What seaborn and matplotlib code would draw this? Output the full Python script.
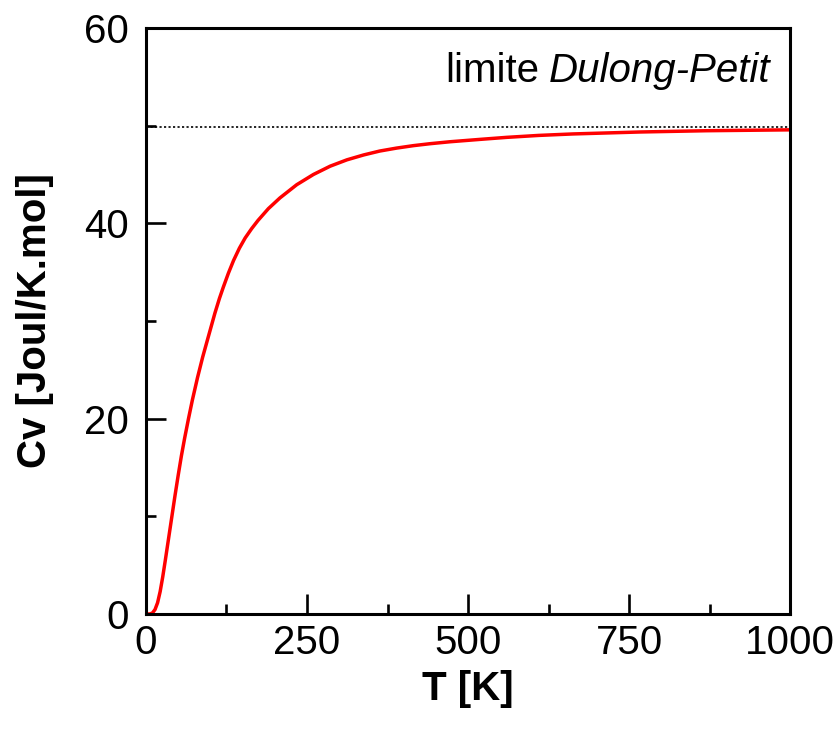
import numpy as np
import pandas as pd
import matplotlib
matplotlib.use("Agg")
import matplotlib.pyplot as plt
import seaborn as sns
from matplotlib.ticker import MultipleLocator

# Heat capacity readings (temperature in K, Cv in J/K.mol)
temperature = [0, 6, 10, 14, 18, 22, 26, 30, 35, 40, 45, 50, 55, 60, 66, 72,
               80, 88, 96, 107, 114, 120, 128, 136, 145, 154, 164, 174, 190,
               208, 234, 260, 286, 312, 338, 363, 389, 415, 441, 472, 520,
               560, 610, 663, 767, 870, 1000]
heat_capacity = [0.0, 0.0, 0.1, 0.45, 1.15, 2.3, 3.8, 5.5, 7.7, 9.9, 12.1,
                 14.2, 16.2, 18.0, 20.0, 21.9, 24.2, 26.3, 28.2, 30.8, 32.3,
                 33.45, 34.9, 36.2, 37.45, 38.5, 39.45, 40.3, 41.5, 42.6,
                 43.95, 45.0, 45.85, 46.5, 47.0, 47.4, 47.7, 47.95, 48.15,
                 48.35, 48.6, 48.8, 49.0, 49.15, 49.35, 49.48, 49.57]
dulong_petit = 49.9

x_ticks = [0, 250, 500, 750, 1000]
y_ticks = [0, 20, 40, 60]

df = pd.DataFrame({"T": temperature, "Cv": heat_capacity})

sns.set_style("ticks")
plt.rcParams["font.family"] = ["Liberation Sans", "DejaVu Sans"]
for key in ["text.color", "axes.labelcolor", "xtick.color", "ytick.color",
            "axes.edgecolor"]:
    plt.rcParams[key] = "black"

FS = 29

fig = plt.figure(figsize=(8.4, 7.4), dpi=100)
ax = fig.add_axes([0.1738, 0.1703, 0.9405 - 0.1738, 0.9622 - 0.1703])

ax.plot([0, 1000], [dulong_petit, dulong_petit], color="black", lw=1.2,
        linestyle=(0, (1.3, 1.4)), zorder=1)
sns.lineplot(data=df, x="T", y="Cv", color="#ff0000", lw=2.5, ax=ax,
             sort=False, estimator=None, zorder=2)

ax.set_xlim(0, 1000)
ax.set_ylim(0, 60)
ax.set_xticks(x_ticks)
ax.set_yticks(y_ticks)
ax.set_xticklabels([str(v) for v in x_ticks])
ax.set_yticklabels([str(v) for v in y_ticks])
ax.xaxis.set_minor_locator(MultipleLocator(125))
ax.yaxis.set_minor_locator(MultipleLocator(10))

ax.tick_params(axis="both", which="major", direction="in", length=14.4,
               width=1.9, labelsize=FS, colors="black")
ax.tick_params(axis="both", which="minor", direction="in", length=7.5,
               width=1.9, colors="black")
ax.tick_params(axis="x", which="both", top=False, bottom=True, pad=7)
ax.tick_params(axis="y", which="both", right=False, left=True, pad=12)

for side in ["left", "right", "top", "bottom"]:
    ax.spines[side].set_visible(True)
    ax.spines[side].set_linewidth(2.2)
    ax.spines[side].set_color("black")

ax.set_xlabel("T [K]", fontsize=FS, fontweight="bold", labelpad=6)
ax.set_ylabel("Cv [Joul/K.mol]", fontsize=FS, fontweight="bold", labelpad=22)

# Annotation: upright "limite" followed by italic "Dulong-Petit"
t_italic = ax.text(969, 54.5, "Dulong-Petit", fontsize=FS, style="italic",
                   ha="right", va="baseline")
fig.canvas.draw()
bb = t_italic.get_window_extent()
x_left = ax.transData.inverted().transform((bb.x0 - 9, bb.y0))[0]
ax.text(x_left, 54.5, "limite", fontsize=FS, ha="right", va="baseline")

fig.savefig("out.png", dpi=100, facecolor="white")
